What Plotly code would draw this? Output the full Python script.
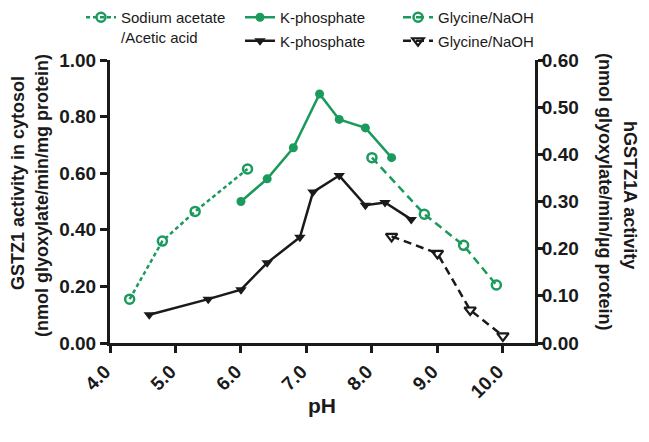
import plotly.graph_objects as go

# ---- data ----
na_ph = [4.3, 4.8, 5.3, 6.1]
na_act = [0.155, 0.36, 0.465, 0.615]

kp_ph = [6.0, 6.4, 6.8, 7.2, 7.5, 7.9, 8.3]
kp_act = [0.50, 0.58, 0.69, 0.88, 0.79, 0.76, 0.655]

gly_ph = [8.0, 8.8, 9.4, 9.9]
gly_act = [0.655, 0.455, 0.345, 0.205]

hkp_ph = [4.6, 5.5, 6.0, 6.4, 6.9, 7.1, 7.5, 7.9, 8.2, 8.6]
hkp_act = [0.060, 0.093, 0.113, 0.170, 0.224, 0.320, 0.355, 0.292, 0.298, 0.262]

hgly_ph = [8.3, 9.0, 9.5, 10.0]
hgly_act = [0.226, 0.190, 0.070, 0.015]

x_ticks = [4, 5, 6, 7, 8, 9, 10]
y1_ticks = [0, 0.2, 0.4, 0.6, 0.8, 1.0]
y2_ticks = [0, 0.1, 0.2, 0.3, 0.4, 0.5, 0.6]

GREEN = "#1a9a5c"
BLACK = "#1a1a1a"
FONT = "Liberation Sans, Arial, sans-serif"
W, H = 649, 442
PX0, PX1, PY0, PY1 = 110, 535, 60, 343  # plot area in pixels


def fx(px):
    return (px - PX0) / (PX1 - PX0)


def fy(py):
    return (PY1 - py) / (PY1 - PY0)


fig = go.Figure()
fig.add_trace(go.Scatter(
    x=na_ph, y=na_act, name="Sodium acetate<br>/Acetic acid", legend="legend",
    mode="lines+markers",
    line=dict(color=GREEN, width=2.5, dash="4px,3px"),
    marker=dict(symbol="circle-open", size=9, color=GREEN, line=dict(width=2.5, color=GREEN)),
))
fig.add_trace(go.Scatter(
    x=kp_ph, y=kp_act, name="K-phosphate", legend="legend2", legendgroup="a",
    mode="lines+markers",
    line=dict(color=GREEN, width=2.5),
    marker=dict(symbol="circle", size=9, color=GREEN),
))
fig.add_trace(go.Scatter(
    x=hkp_ph, y=hkp_act, name="K-phosphate", legend="legend2", legendgroup="b",
    mode="lines+markers", yaxis="y2",
    line=dict(color=BLACK, width=2.5),
    marker=dict(symbol="triangle-down", size=10, color=BLACK),
))
fig.add_trace(go.Scatter(
    x=gly_ph, y=gly_act, name="Glycine/NaOH", legend="legend3", legendgroup="c",
    mode="lines+markers",
    line=dict(color=GREEN, width=2.5, dash="8px,5px"),
    marker=dict(symbol="circle-open", size=9, color=GREEN, line=dict(width=2.5, color=GREEN)),
))
fig.add_trace(go.Scatter(
    x=hgly_ph, y=hgly_act, name="Glycine/NaOH", legend="legend3", legendgroup="d",
    mode="lines+markers", yaxis="y2",
    line=dict(color=BLACK, width=2.5, dash="8px,5px"),
    marker=dict(symbol="triangle-down-open", size=10, color=BLACK, line=dict(width=2.2, color=BLACK)),
))

tickfont = dict(family=FONT, size=19, color=BLACK, weight="bold")
legfont = dict(family=FONT, size=15, color=BLACK)


def leg(xpx):
    return dict(x=fx(xpx), y=fy(1), xref="paper", yref="paper",
                xanchor="left", yanchor="top", font=legfont, bgcolor="rgba(0,0,0,0)",
                traceorder="grouped", tracegroupgap=1, valign="top", itemwidth=30)


def ann(text, xpx, ypx, angle, size=18):
    return dict(text=text, x=fx(xpx), y=fy(ypx), xref="paper", yref="paper",
                showarrow=False, textangle=angle,
                font=dict(family=FONT, size=size, weight="bold", color=BLACK),
                xanchor="center", yanchor="middle")


fig.update_layout(
    width=W, height=H,
    margin=dict(l=PX0, r=W - PX1, t=PY0, b=H - PY1, autoexpand=False),
    plot_bgcolor="white", paper_bgcolor="white",
    font=dict(family=FONT, color=BLACK),
    showlegend=True,
    legend=leg(81), legend2=leg(240), legend3=leg(398),
    xaxis=dict(
        range=[4.0, 10.49], tickvals=x_ticks, ticktext=[f"{v:.1f}" for v in x_ticks],
        tickangle=-45, tickfont=tickfont, ticks="outside", ticklen=7, tickwidth=3,
        tickcolor=BLACK, showline=True, linewidth=3, linecolor=BLACK,
        showgrid=False, zeroline=False, automargin=False, ticklabelshift=-5,
    ),
    yaxis=dict(
        range=[0, 1.0], tickvals=y1_ticks, ticktext=[f"{v:.2f}" for v in y1_ticks],
        tickfont=tickfont, ticks="outside", ticklen=7, tickwidth=3, tickcolor=BLACK,
        showline=True, linewidth=3, linecolor=BLACK, showgrid=False, zeroline=False,
        automargin=False,
    ),
    yaxis2=dict(
        range=[0, 0.6], tickvals=y2_ticks, ticktext=[f"{v:.2f}" for v in y2_ticks],
        overlaying="y", side="right", anchor="x",
        tickfont=tickfont, ticks="outside", ticklen=7, tickwidth=3, tickcolor=BLACK,
        showline=True, linewidth=3, linecolor=BLACK, showgrid=False, zeroline=False,
        automargin=False, ticklabelstandoff=-7,
    ),
    annotations=[
        ann("GSTZ1 activity in cytosol", 18, 183, -90),
        ann("(nmol glyoxylate/min/mg protein)", 42, 196, -90),
        ann("hGSTZ1A activity", 630, 195, 90),
        ann("(nmol glyoxylate/min/µg protein)", 605, 191, 90),
        ann("pH", 322, 405, 0, size=21),
    ],
)

fig.write_html("out.html", config={"displayModeBar": False},
               post_script="document.body.style.margin='0';")
